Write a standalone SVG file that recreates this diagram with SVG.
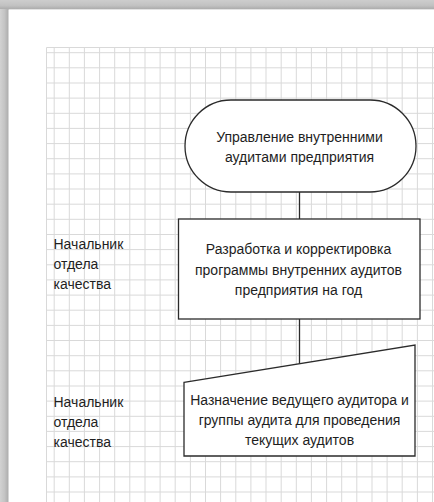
<svg xmlns="http://www.w3.org/2000/svg" width="434" height="502" viewBox="0 0 434 502">
  <defs>
    <linearGradient id="gLeft" x1="0" y1="0" x2="1" y2="0">
      <stop offset="0" stop-color="#d2d2d2"/>
      <stop offset="0.5" stop-color="#c4c4c4"/>
      <stop offset="1" stop-color="#a9a9a9"/>
    </linearGradient>
    <linearGradient id="gTop" x1="0" y1="0" x2="0" y2="1">
      <stop offset="0" stop-color="#cdcdcd"/>
      <stop offset="0.6" stop-color="#c2c2c2"/>
      <stop offset="1" stop-color="#acacac"/>
    </linearGradient>
    <style>
      .grid { stroke: #d9d9d9; stroke-width: 1; fill: none; }
      .shape { fill: #ffffff; stroke: #2b2b2b; stroke-width: 1.3; }
      .conn { stroke: #2b2b2b; stroke-width: 1.3; fill: none; }
      .t { font-family: "Liberation Sans", Arial, sans-serif; font-size: 14px; fill: #1e1e1e; }
      .c { text-anchor: middle; }
    </style>
  </defs>

  <!-- background and page -->
  <rect x="0" y="0" width="434" height="502" fill="#c6c6c6"/>
  <rect x="0" y="0" width="9" height="502" fill="url(#gLeft)"/>
  <rect x="0" y="0" width="434" height="9" fill="url(#gTop)"/>
  <rect x="8.5" y="9.5" width="430" height="500" fill="#ffffff"/>

  <!-- grid -->
  <g id="grid" class="grid">
    <path d="M46.5 47.5 V502 M46.5 47.5 H434
      M54.2 47.5 V502 M69.3 47.5 V502 M84.4 47.5 V502 M99.6 47.5 V502 M114.7 47.5 V502
      M129.8 47.5 V502 M145.0 47.5 V502 M160.1 47.5 V502 M175.2 47.5 V502 M190.4 47.5 V502
      M205.5 47.5 V502 M220.6 47.5 V502 M235.8 47.5 V502 M250.9 47.5 V502 M266.0 47.5 V502
      M281.2 47.5 V502 M296.3 47.5 V502 M311.4 47.5 V502 M326.6 47.5 V502 M341.7 47.5 V502
      M356.8 47.5 V502 M372.0 47.5 V502 M387.1 47.5 V502 M402.2 47.5 V502 M417.4 47.5 V502
      M432.5 47.5 V502
      M46.5 52.7 H434 M46.5 67.8 H434 M46.5 83.0 H434 M46.5 98.1 H434 M46.5 113.3 H434
      M46.5 128.4 H434 M46.5 143.6 H434 M46.5 158.7 H434 M46.5 173.9 H434 M46.5 189.0 H434
      M46.5 204.2 H434 M46.5 219.3 H434 M46.5 234.5 H434 M46.5 249.6 H434 M46.5 264.8 H434
      M46.5 279.9 H434 M46.5 295.1 H434 M46.5 310.2 H434 M46.5 325.4 H434 M46.5 340.5 H434
      M46.5 355.7 H434 M46.5 370.8 H434 M46.5 386.0 H434 M46.5 401.1 H434 M46.5 416.3 H434
      M46.5 431.4 H434 M46.5 446.6 H434 M46.5 461.7 H434 M46.5 476.9 H434 M46.5 492.0 H434"/>
  </g>

  <!-- connectors -->
  <g id="connectors" class="conn">
    <path d="M299.5 192 V219"/>
    <path d="M299.5 319 V363.6"/>
  </g>

  <!-- nodes -->
  <g id="node-start">
    <rect class="shape" x="185" y="100" width="231" height="92" rx="46" ry="46"/>
    <text class="t c" x="299.5" y="141.7">Управление внутренними</text>
    <text class="t c" x="299.5" y="161.7">аудитами предприятия</text>
  </g>

  <g id="node-program">
    <rect class="shape" x="178.5" y="219" width="241.5" height="100"/>
    <text class="t c" x="298.5" y="253.5">Разработка и корректировка</text>
    <text class="t c" x="298.5" y="274.5">программы внутренних аудитов</text>
    <text class="t c" x="298.5" y="295">предприятия на год</text>
  </g>

  <g id="node-assign">
    <polygon class="shape" points="184,382.3 415,345 415,456 184,456"/>
    <text class="t c" x="299.5" y="405">Назначение ведущего аудитора и</text>
    <text class="t c" x="299.5" y="425">группы аудита для проведения</text>
    <text class="t c" x="299.5" y="445">текущих аудитов</text>
  </g>

  <g id="label-1">
    <text class="t" x="53.5" y="249">Начальник</text>
    <text class="t" x="53.5" y="269">отдела</text>
    <text class="t" x="53.5" y="289">качества</text>
  </g>

  <g id="label-2">
    <text class="t" x="53.5" y="406.5">Начальник</text>
    <text class="t" x="53.5" y="426.5">отдела</text>
    <text class="t" x="53.5" y="446.5">качества</text>
  </g>
</svg>
